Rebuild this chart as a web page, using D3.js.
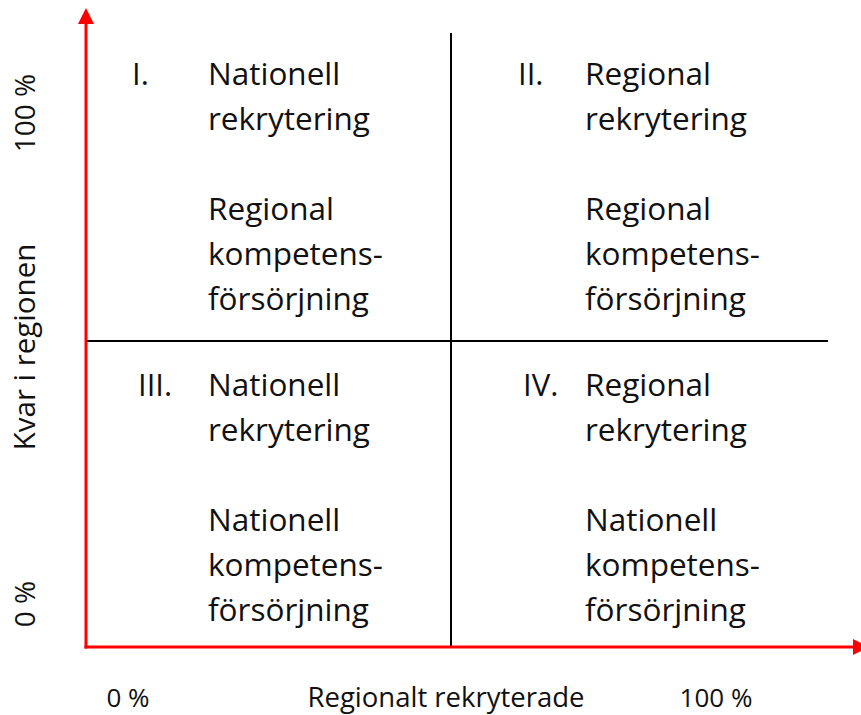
<!DOCTYPE html>
<html>
<meta charset='utf-8'>
<head>
<title>kvar i regionen vs regionalt rekryterade</title>
<script src='https://d3js.org/d3.v7.min.js'></script>
<style>
  body { margin: 0; background: #fff; }
  text { font-family: 'Open Sans', sans-serif; fill: #111; }
</style>
</head>

<body>
<div id='my_dataviz'></div>
<script>
// quadrant data
var quadrants = ['I.', 'II.', 'III.', 'IV.']
var quadrantX = [0, 50, 0, 50]     // left edge of each quadrant, in % of regionalt rekryterade
var quadrantY = [100, 100, 50, 50] // top edge of each quadrant, in % of kvar i regionen
var recruitText = [
  ['Nationell', 'rekrytering'],
  ['Regional', 'rekrytering'],
  ['Nationell', 'rekrytering'],
  ['Regional', 'rekrytering']
]
var supplyText = [
  ['Regional', 'kompetens-', 'försörjning'],
  ['Regional', 'kompetens-', 'försörjning'],
  ['Nationell', 'kompetens-', 'försörjning'],
  ['Nationell', 'kompetens-', 'försörjning']
]
var dividers = [50]
var axisTicks = ['0 %', '100 %']
var xTitle = 'Regionalt rekryterade'
var yTitle = 'Kvar i regionen'

var width = 861, height = 715

var svg = d3.select('#my_dataviz')
  .append('svg')
    .attr('width', width)
    .attr('height', height)

var x = d3.scaleLinear().domain([0, 100]).range([86, 816])
var y = d3.scaleLinear().domain([0, 100]).range([647, 35])

// divider lines
svg.selectAll('vline')
  .data(dividers)
  .enter()
  .append('line')
    .attr('x1', function(d) { return x(d) })
    .attr('x2', function(d) { return x(d) })
    .attr('y1', y(100) - 2)
    .attr('y2', y(0))
    .attr('stroke', '#000')
    .attr('stroke-width', 2)
svg.selectAll('hline')
  .data(dividers)
  .enter()
  .append('line')
    .attr('x1', x(0))
    .attr('x2', x(100) + 12)
    .attr('y1', function(d) { return y(d) })
    .attr('y2', function(d) { return y(d) })
    .attr('stroke', '#000')
    .attr('stroke-width', 2)

// red axes with arrows
svg.append('defs').append('marker')
    .attr('id', 'arrow')
    .attr('viewBox', '0 0 10 10')
    .attr('refX', 0)
    .attr('refY', 5)
    .attr('markerWidth', 16)
    .attr('markerHeight', 16)
    .attr('markerUnits', 'userSpaceOnUse')
    .attr('orient', 'auto')
  .append('path')
    .attr('d', 'M0,0 L10,5 L0,10 Z')
    .attr('fill', 'red')

svg.append('line')
    .attr('x1', x(0)).attr('y1', y(0) + 1.5)
    .attr('x2', x(0)).attr('y2', 24)
    .attr('stroke', 'red')
    .attr('stroke-width', 3)
    .attr('marker-end', 'url(#arrow)')
svg.append('line')
    .attr('x1', x(0) - 1.5).attr('y1', y(0))
    .attr('x2', 853).attr('y2', y(0))
    .attr('stroke', 'red')
    .attr('stroke-width', 3)
    .attr('marker-end', 'url(#arrow)')

// quadrant texts
var numeralDx = [46, 67, 52, 72]
var lineH = 45

var q = svg.selectAll('quad')
  .data(quadrants)
  .enter()
  .append('g')
    .attr('transform', function(d, i) { return 'translate(' + x(quadrantX[i]) + ',' + y(quadrantY[i]) + ')' })

q.append('text')
    .attr('x', function(d, i) { return numeralDx[i] })
    .attr('y', function(d, i) { return i < 2 ? 50 : 55 })
    .style('font-size', '31px')
    .text(function(d) { return d })

q.each(function(d, i) {
  var g = d3.select(this)
  var top = i < 2 ? 50 : 55
  var dx = i % 2 === 0 ? 122 : 134
  var lines = recruitText[i].concat([null], supplyText[i])
  lines.forEach(function(t, k) {
    if (t === null) { return }
    g.append('text')
      .attr('x', dx)
      .attr('y', top + k * lineH)
      .style('font-size', '31.5px')
      .text(t)
  })
})

// axis tick labels and titles
svg.append('text')
    .attr('x', 128).attr('y', 707)
    .style('font-size', '26px')
    .style('text-anchor', 'middle')
    .text(axisTicks[0])
svg.append('text')
    .attr('x', 716).attr('y', 707)
    .style('font-size', '26px')
    .style('text-anchor', 'middle')
    .text(axisTicks[1])
svg.append('text')
    .attr('x', 446).attr('y', 707)
    .style('font-size', '27.5px')
    .style('text-anchor', 'middle')
    .text(xTitle)

svg.append('text')
    .attr('transform', 'translate(35,604) rotate(-90)')
    .style('font-size', '28px')
    .style('text-anchor', 'middle')
    .text(axisTicks[0])
svg.append('text')
    .attr('transform', 'translate(35,113) rotate(-90)')
    .style('font-size', '28px')
    .style('text-anchor', 'middle')
    .text(axisTicks[1])
svg.append('text')
    .attr('transform', 'translate(35,347) rotate(-90)')
    .style('font-size', '29.5px')
    .style('text-anchor', 'middle')
    .text(yTitle)
</script>
</body>
</html>
